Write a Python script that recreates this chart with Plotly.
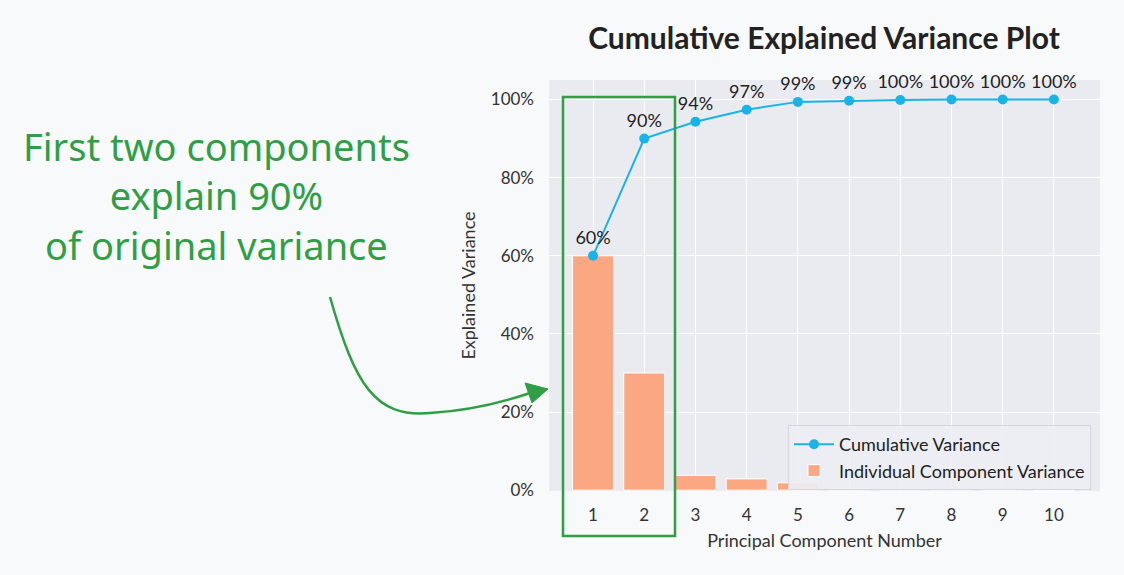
import plotly.graph_objects as go

# ---- data ----
components = [1, 2, 3, 4, 5, 6, 7, 8, 9, 10]
individual = [0.60, 0.30, 0.038, 0.029, 0.019, 0.004, 0.003, 0.002, 0.001, 0.000]
cumulative = [0.60, 0.90, 0.943, 0.974, 0.994, 0.997, 0.999, 1.000, 1.000, 1.000]
cum_labels = ["60%", "90%", "94%", "97%", "99%", "99%", "100%", "100%", "100%", "100%"]
y_ticks = [0, 0.2, 0.4, 0.6, 0.8, 1.0]
y_ticklabels = ["0%", "20%", "40%", "60%", "80%", "100%"]

BAR = "#fba882"
LINE = "#19b4e6"
GREEN = "#2f9e44"
FONT = "Lato"

fig = go.Figure()
fig.add_trace(go.Scatter(
    x=components, y=cumulative, mode="lines+markers+text",
    name="Cumulative Variance",
    line=dict(color=LINE, width=2),
    marker=dict(color=LINE, size=10),
    text=cum_labels, textposition="top center",
    textfont=dict(size=18, color="#222", family=FONT),
    cliponaxis=False,
))
fig.add_trace(go.Bar(
    x=components, y=individual, name="Individual Component Variance",
    marker=dict(color=BAR, line=dict(color="white", width=1)),
    width=0.8,
))

W, H = 1124, 575
L, R, T, B = 549, 1100, 80, 491
pw, ph = R - L, B - T


def px(x):
    return (x - L) / pw


def py(y):
    return (B - y) / ph


# curved arrow (paper coords)
pts = [(330, 297), (355, 385), (375, 418), (430, 413), (480, 410), (530, 393)]
p = [(px(a), py(b)) for a, b in pts]
path = (f"M {p[0][0]},{p[0][1]} C {p[1][0]},{p[1][1]} {p[2][0]},{p[2][1]} {p[3][0]},{p[3][1]} "
        f"Q {p[4][0]},{p[4][1]} {p[5][0]},{p[5][1]}")
fig.add_shape(type="path", path=path, xref="paper", yref="paper",
              line=dict(color=GREEN, width=2.5))
head = [(548, 389), (525, 383), (532, 403)]
h = [(px(a), py(b)) for a, b in head]
fig.add_shape(type="path", xref="paper", yref="paper",
              path=f"M {h[0][0]},{h[0][1]} L {h[1][0]},{h[1][1]} L {h[2][0]},{h[2][1]} Z",
              line=dict(color=GREEN, width=1), fillcolor=GREEN)

# green box around first two components
fig.add_shape(type="rect", xref="paper", yref="paper",
              x0=px(563), x1=px(675), y0=py(536), y1=py(97),
              line=dict(color=GREEN, width=2.5), layer="above")

fig.add_annotation(
    text="First two components<br>explain 90%<br>of original variance",
    xref="paper", yref="paper", x=px(216), y=py(195), xanchor="center", yanchor="middle",
    showarrow=False, align="center",
    font=dict(size=38, color=GREEN, family="Noto Sans"),
)

fig.update_layout(
    width=W, height=H,
    margin=dict(l=L, r=W - R, t=T, b=H - B, pad=0),
    paper_bgcolor="#f8f9fb",
    plot_bgcolor="#eaebf1",
    font=dict(family=FONT, size=17, color="#333"),
    title=dict(text="<b>Cumulative Explained Variance Plot</b>", x=px(824), xref="paper",
               xanchor="center", y=1 - 38 / H, yanchor="middle",
               font=dict(size=30, color="#222", family=FONT)),
    showlegend=True,
    legend=dict(x=px(1091), y=py(425), xanchor="right", yanchor="top",
                bgcolor="rgba(236,238,243,0.9)", bordercolor="#d4d6dc", borderwidth=1,
                font=dict(size=18, color="#222"), traceorder="normal",
                itemwidth=40),
    xaxis=dict(range=[0.14, 10.9], tickmode="array", tickvals=components,
               ticktext=[str(c) for c in components],
               showgrid=True, gridcolor="white", gridwidth=1, zeroline=False,
               showline=False, ticks="", ticklabelstandoff=12,
               title=dict(text="Principal Component Number", font=dict(size=18), standoff=10)),
    yaxis=dict(range=[-0.002, 1.05], tickmode="array", tickvals=y_ticks,
               ticktext=y_ticklabels,
               showgrid=True, gridcolor="white", gridwidth=1, zeroline=False,
               showline=False, ticks="", ticklabelstandoff=14,
               title=dict(text="Explained Variance", font=dict(size=18), standoff=10)),
    bargap=0.2,
)

fig.write_html("out.html")
